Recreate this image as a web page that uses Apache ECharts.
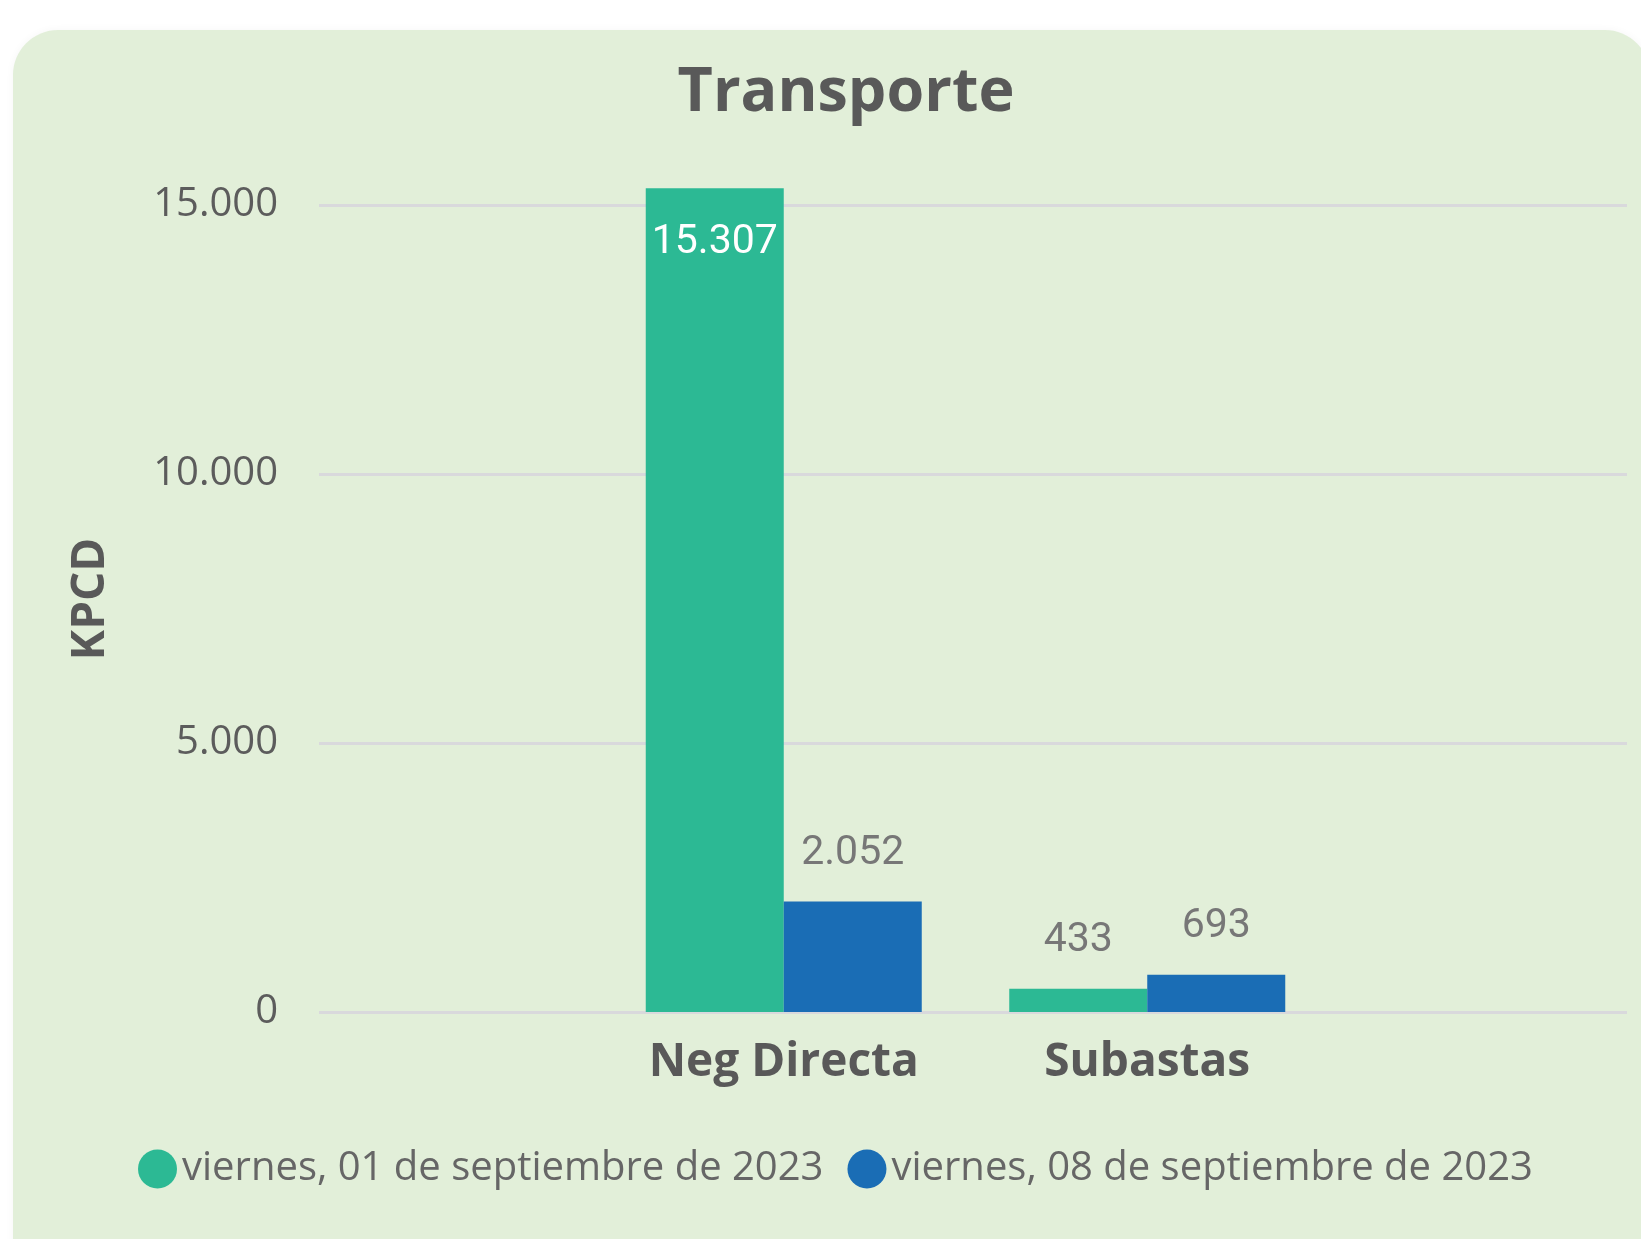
<!DOCTYPE html>
<html>
<head>
<meta charset="utf-8">
<title>Transporte</title>
<script src="https://cdn.jsdelivr.net/npm/echarts@6/dist/echarts.min.js"></script>
<style>
  html, body { margin: 0; padding: 0; background: #fff; overflow: hidden; }
  #panel {
    position: absolute; left: 13px; top: 30px; width: 1637px; height: 1260px;
    background: #e2efd9; border-radius: 45px; box-shadow: 0 0 8px rgba(0,0,0,0.04);
  }
  #myChart { position: absolute; left: 0; top: 0; width: 1641px; height: 1239px; }
</style>
</head>
<body>
<div id="panel"></div>
<div id="myChart"></div>
<script>
  // datos
  var categories = ['Neg Directa', 'Subastas'];
  var seriesNames = ['viernes, 01 de septiembre de 2023', 'viernes, 08 de septiembre de 2023'];
  var values01 = [15307, 433];
  var values08 = [2052, 693];
  var yMax = 15000;
  var yInterval = 5000;

  // separador de miles con punto
  function fmt(v) {
    return String(v).replace(/\B(?=(\d{3})+(?!\d))/g, '.');
  }

  var labelOutside = {
    show: true, position: 'top', distance: 27,
    fontFamily: 'Roboto', fontSize: 41, lineHeight: 41, color: '#777777',
    formatter: function (p) { return fmt(p.value); }
  };

  var myChart = echarts.init(document.getElementById('myChart'));
  myChart.setOption({
    animation: false,
    graphic: [
      {
        type: 'text', x: 846, y: 94,
        style: {
          text: 'Transporte', fontFamily: 'Open Sans', fontWeight: 'bold', fontSize: 61,
          fill: '#595959', align: 'center', verticalAlign: 'middle'
        }
      },
      {
        type: 'text', x: 91, y: 599, rotation: Math.PI / 2,
        style: {
          text: 'KPCD', fontFamily: 'Open Sans', fontWeight: 'bold', fontSize: 46,
          fill: '#595959', align: 'center', verticalAlign: 'middle'
        }
      }
    ],
    legend: {
      left: 133, top: 1144,
      icon: 'circle', itemWidth: 39, itemHeight: 39, itemGap: 24,
      textStyle: { fontFamily: 'Open Sans', fontSize: 40, color: '#666666' },
      data: seriesNames
    },
    grid: [
      { left: 602, right: 312, top: 151, bottom: 227 },   // barras
      { left: 319, right: 14, top: 205, bottom: 227 }     // lineas de cuadricula
    ],
    xAxis: [
      {
        gridIndex: 0, type: 'category', data: categories,
        axisLine: { show: false }, axisTick: { show: false },
        axisLabel: {
          fontFamily: 'Open Sans', fontWeight: 'bold', fontSize: 46, lineHeight: 46,
          color: '#595959', margin: 28
        }
      },
      { gridIndex: 1, type: 'value', show: false, min: 0, max: 1 }
    ],
    yAxis: [
      { gridIndex: 0, type: 'value', min: 0, max: 16000, show: false },
      {
        gridIndex: 1, type: 'value', min: 0, max: yMax, interval: yInterval,
        axisLine: { show: false }, axisTick: { show: false },
        splitLine: { lineStyle: { color: '#d9d9dc', width: 3 } },
        axisLabel: {
          fontFamily: 'Open Sans', fontSize: 40, color: '#5c5c5c', margin: 41,
          padding: [6, 0, 0, 0],
          formatter: function (v) { return fmt(v); }
        }
      }
    ],
    series: [
      {
        name: seriesNames[0], type: 'bar', xAxisIndex: 0, yAxisIndex: 0,
        barWidth: 138, barGap: 0,
        itemStyle: { color: '#2cb994' },
        label: labelOutside,
        data: values01.map(function (v, i) {
          if (i === 0) {
            return { value: v, label: { position: 'insideTop', distance: 34, color: '#ffffff' } };
          }
          return v;
        })
      },
      {
        name: seriesNames[1], type: 'bar', xAxisIndex: 0, yAxisIndex: 0,
        barWidth: 138, barGap: 0,
        itemStyle: { color: '#1a6db5' },
        label: labelOutside,
        data: values08
      }
    ]
  });
</script>
</body>
</html>
